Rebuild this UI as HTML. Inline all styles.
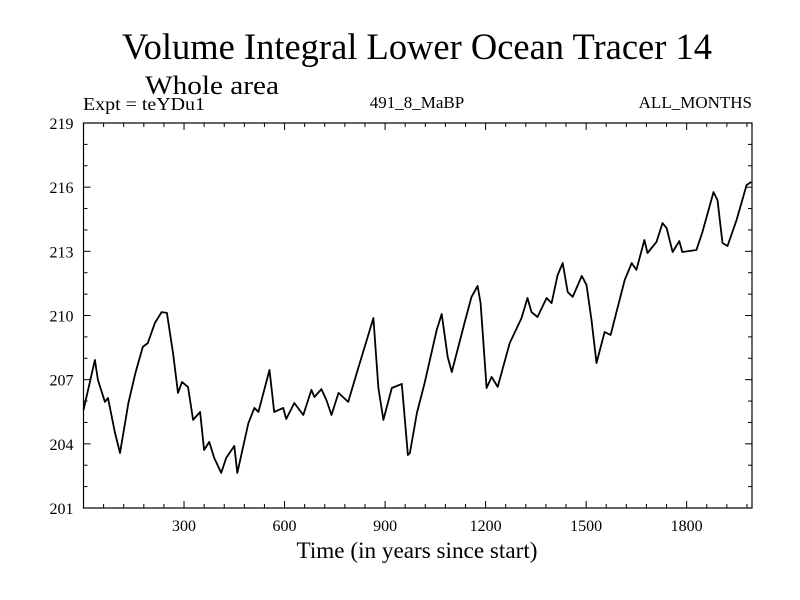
<!DOCTYPE html>
<html><head><meta charset="utf-8"><style>
body{margin:0;background:#fff;}
svg{display:block;font-family:"Liberation Serif",serif;}
</style></head><body>
<svg id="chart" width="800" height="600" viewBox="0 0 800 600">
<text x="417" y="59" font-size="37" text-anchor="middle" textLength="590" lengthAdjust="spacingAndGlyphs">Volume Integral Lower Ocean Tracer 14</text>
<text x="145" y="94" font-size="26" textLength="134" lengthAdjust="spacingAndGlyphs">Whole area</text>
<text x="83" y="110" font-size="18" textLength="122" lengthAdjust="spacingAndGlyphs">Expt = teYDu1</text>
<text x="417" y="108" font-size="17" text-anchor="middle">491_8_MaBP</text>
<text x="752" y="108" font-size="17" text-anchor="end">ALL_MONTHS</text>
<text x="417" y="558" font-size="23" text-anchor="middle" textLength="241" lengthAdjust="spacingAndGlyphs">Time (in years since start)</text>
<g id="axes"></g>
<path id="series" fill="none" stroke="#000" stroke-width="1.8" stroke-linejoin="round"/>
</svg>
<script>
const years=[0,34,43,64,73,94,109,134,155,177,192,213,233,249,267,282,294,312,327,348,360,375,390,411,426,450,459,492,510,522,555,569,596,605,629,656,680,689,710,725,740,761,790,820,865,880,895,920,950,968,974,995,1018,1054,1069,1087,1099,1138,1158,1176,1185,1203,1218,1236,1272,1307,1325,1337,1355,1382,1397,1415,1430,1445,1460,1487,1501,1516,1531,1555,1573,1615,1636,1650,1674,1683,1710,1728,1740,1758,1778,1787,1829,1847,1880,1892,1907,1922,1949,1979,1993];
const values=[205.58,207.92,206.99,205.96,206.14,204.51,203.57,205.91,207.31,208.53,208.71,209.65,210.16,210.12,208.25,206.38,206.89,206.66,205.12,205.49,203.71,204.09,203.34,202.64,203.34,203.90,202.64,204.97,205.68,205.49,207.45,205.49,205.68,205.16,205.91,205.35,206.52,206.19,206.56,206.05,205.35,206.38,205.96,207.55,209.88,206.61,205.12,206.61,206.80,203.48,203.57,205.44,206.84,209.32,210.07,208.06,207.36,209.70,210.87,211.38,210.58,206.61,207.13,206.66,208.71,209.88,210.82,210.16,209.93,210.82,210.58,211.89,212.45,211.10,210.87,211.85,211.43,209.79,207.78,209.23,209.09,211.66,212.45,212.13,213.53,212.92,213.44,214.32,214.09,212.97,213.48,212.97,213.06,213.90,215.77,215.40,213.39,213.25,214.47,216.10,216.24];
const xTicks=[300,600,900,1200,1500,1800];
const yTicks=[201,204,207,210,213,216,219];
const X0=83.5,X1=752,Y0=123,Y1=508,XMIN=0,XMAX=1995,YMIN=201,YMAX=219;
const xs=v=>X0+(v-XMIN)/(XMAX-XMIN)*(X1-X0);
const ys=v=>Y1-(v-YMIN)/(YMAX-YMIN)*(Y1-Y0);
const NS='http://www.w3.org/2000/svg';
const ax=document.getElementById('axes');
function mk(t,a){const e=document.createElementNS(NS,t);for(const k in a)e.setAttribute(k,a[k]);ax.appendChild(e);return e;}
const fr=mk('rect',{x:X0,y:Y0,width:X1-X0,height:Y1-Y0,fill:'none',stroke:'#000','stroke-width':1.2});


for(let v=60;v<XMAX;v+=60){const x=xs(v);const L=(v%300===0)?7:4;
 const t1=mk('line',{x1:x,y1:Y1,x2:x,y2:Y1-L,stroke:'#000'});
 
 
 const t2=mk('line',{x1:x,y1:Y0,x2:x,y2:Y0+L,stroke:'#000'});
 
 }
for(let v=YMIN+1;v<YMAX;v++){const y=ys(v);const L=((v-YMIN)%3===0)?7:4;
 const t1=mk('line',{x1:X0,y1:y,x2:X0+L,y2:y,stroke:'#000'});
 
 
 const t2=mk('line',{x1:X1,y1:y,x2:X1-L,y2:y,stroke:'#000'});
 
 }
xTicks.forEach(v=>{const t=mk('text',{x:xs(v),y:Y1+23,'font-size':16,'text-anchor':'middle'});t.textContent=v;
 
 });
yTicks.forEach(v=>{const t=mk('text',{x:X0-10,y:ys(v)+6,'font-size':16,'text-anchor':'end'});t.textContent=v;
 
 });
document.getElementById('series').setAttribute('d',years.map((y,i)=>(i?'L':'M')+xs(y).toFixed(1)+','+ys(values[i]).toFixed(1)).join(''));
</script>
</body></html>
